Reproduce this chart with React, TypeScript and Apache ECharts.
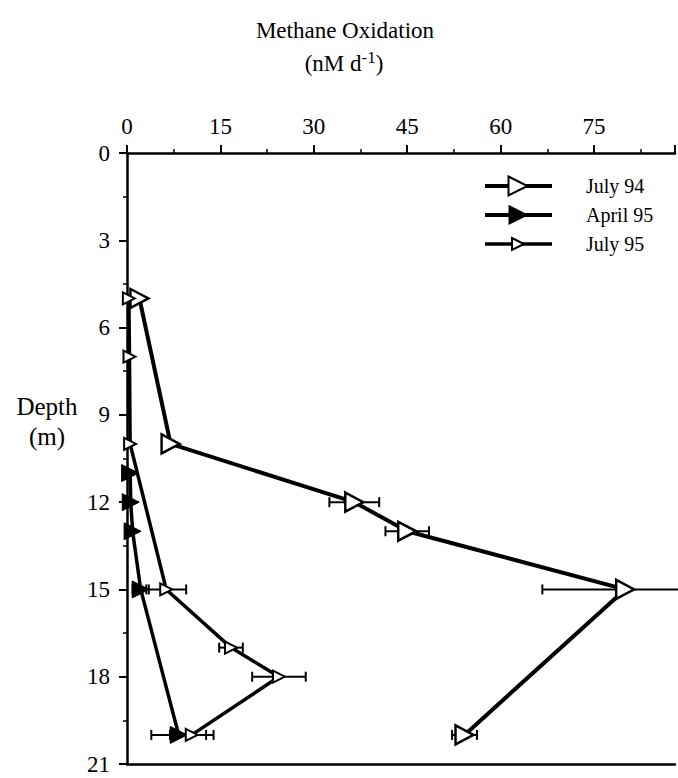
import React, { useEffect, useRef } from "react";
import * as echarts from "echarts";

// ---- Data (depth in m, methane oxidation in nM d-1) ----
const july94Depth = [5, 10, 12, 13, 15, 20];
const july94Value = [2.0, 7.0, 36.5, 45.0, 80.0, 54.2];
const july94Err = [0, 0, 4.0, 3.5, 13.3, 2.0];

const april95Depth = [11, 12, 13, 15, 20];
const april95Value = [0.5, 0.6, 0.9, 2.2, 8.3];
const april95Err = [0, 0, 0, 1.3, 4.4];

const july95Depth = [5, 7, 10, 15, 17, 18, 20];
const july95Value = [0.3, 0.4, 0.5, 6.3, 16.7, 24.4, 10.4];
const july95Err = [0, 0, 0, 3.2, 1.9, 4.3, 3.5];

const xTickLabels = [0, 15, 30, 45, 60, 75];
const seriesNames = ["July 94", "April 95", "July 95"];

const FONT = "'Liberation Serif', 'Times New Roman', Times, serif";

function errorBarSeries(values: number[], depths: number[], errs: number[]) {
  return {
    type: "custom",
    xAxisIndex: 0,
    yAxisIndex: 0,
    silent: true,
    z: 1,
    encode: { x: 0, y: 1 },
    data: values.map((v, i) => [v, depths[i], errs[i]]),
    renderItem: (params: any, api: any) => {
      const x = api.value(0);
      const d = api.value(1);
      const e = api.value(2);
      if (!e) return null;
      const l = api.coord([x - e, d]);
      const r = api.coord([x + e, d]);
      const cap = 5;
      const st = { stroke: "#000", lineWidth: 2 };
      return {
        type: "group",
        children: [
          { type: "line", shape: { x1: l[0], y1: l[1], x2: r[0], y2: r[1] }, style: st },
          { type: "line", shape: { x1: l[0], y1: l[1] - cap, x2: l[0], y2: l[1] + cap }, style: st },
          { type: "line", shape: { x1: r[0], y1: r[1] - cap, x2: r[0], y2: r[1] + cap }, style: st },
        ],
      };
    },
  };
}

function legendItem(y: number, label: string, size: number, filled: boolean, lw: number) {
  const cx = 518;
  const half = size / 2;
  return [
    { type: "line", shape: { x1: 485, y1: y, x2: 552, y2: y }, style: { stroke: "#000", lineWidth: lw } },
    {
      type: "polygon",
      shape: { points: [[cx - half, y - half], [cx + half, y], [cx - half, y + half]] },
      style: { fill: filled ? "#000" : "#fff", stroke: "#000", lineWidth: 2 },
    },
    {
      type: "text",
      x: 586,
      y: y,
      style: { text: label, fontFamily: FONT, fontSize: 20, fill: "#000", verticalAlign: "middle", align: "left" },
    },
  ];
}

export default function App() {
  const ref = useRef<HTMLDivElement>(null);
  useEffect(() => {
    if (!ref.current) return;
    const chart = echarts.init(ref.current, undefined, { renderer: "svg" });
    const axisLineStyle = { color: "#000", width: 2.5 };
    chart.setOption({
      animation: false,
      backgroundColor: "#fff",
      textStyle: { fontFamily: FONT },
      grid: { left: 127, top: 153, right: 0, height: 611, containLabel: false },
      xAxis: [
        {
          type: "value",
          position: "top",
          min: 0,
          max: 88,
          interval: 15,
          axisLine: { onZero: false, lineStyle: axisLineStyle },
          axisTick: { length: 8, lineStyle: { color: "#000", width: 2 } },
          minorTick: { show: true, splitNumber: 2, length: 4, lineStyle: { color: "#000", width: 1.5 } },
          splitLine: { show: false },
          axisLabel: {
            margin: 15,
            color: "#000",
            fontFamily: FONT,
            fontSize: 23,
            formatter: (v: number) => (xTickLabels.indexOf(v) >= 0 ? String(v) : ""),
          },
        },
        {
          type: "value",
          position: "bottom",
          min: 0,
          max: 88,
          axisLine: { onZero: false, lineStyle: axisLineStyle },
          axisTick: { show: false },
          axisLabel: { show: false },
          splitLine: { show: false },
        },
      ],
      yAxis: {
        type: "value",
        inverse: true,
        min: 0,
        max: 21,
        interval: 3,
        axisLine: { onZero: false, lineStyle: axisLineStyle },
        axisTick: { length: 8, lineStyle: { color: "#000", width: 2 } },
        minorTick: { show: true, splitNumber: 2, length: 4, lineStyle: { color: "#000", width: 1.5 } },
        splitLine: { show: false },
        axisLabel: { margin: 17, color: "#000", fontFamily: FONT, fontSize: 23 },
      },
      series: [
        errorBarSeries(july94Value, july94Depth, july94Err),
        errorBarSeries(april95Value, april95Depth, april95Err),
        errorBarSeries(july95Value, july95Depth, july95Err),
        {
          type: "line",
          name: seriesNames[0],
          xAxisIndex: 0,
          data: july94Value.map((v, i) => [v, july94Depth[i]]),
          symbol: "triangle",
          symbolRotate: -90,
          symbolSize: [19, 18],
          lineStyle: { color: "#000", width: 4 },
          itemStyle: { color: "#fff", borderColor: "#000", borderWidth: 2.5 },
          z: 3,
        },
        {
          type: "line",
          name: seriesNames[1],
          xAxisIndex: 0,
          data: april95Value.map((v, i) => [v, april95Depth[i]]),
          symbol: "triangle",
          symbolRotate: -90,
          symbolSize: [17, 17],
          lineStyle: { color: "#000", width: 3.5 },
          itemStyle: { color: "#000", borderColor: "#000", borderWidth: 1 },
          z: 3,
        },
        {
          type: "line",
          name: seriesNames[2],
          xAxisIndex: 0,
          data: july95Value.map((v, i) => [v, july95Depth[i]]),
          symbol: "triangle",
          symbolRotate: -90,
          symbolSize: [12, 12],
          lineStyle: { color: "#000", width: 3.5 },
          itemStyle: { color: "#fff", borderColor: "#000", borderWidth: 2 },
          z: 3,
        },
      ],
      graphic: [
        {
          type: "text",
          x: 345,
          y: 30,
          style: { text: "Methane Oxidation", fontFamily: FONT, fontSize: 23, fill: "#000", align: "center", verticalAlign: "middle" },
        },
        {
          type: "text",
          x: 344,
          y: 62,
          style: {
            text: "{a|(nM d}{s|-1}{a|)}",
            fill: "#000",
            align: "center",
            verticalAlign: "middle",
            rich: {
              a: { fontFamily: FONT, fontSize: 23, fill: "#000", verticalAlign: "bottom", lineHeight: 26 },
              s: { fontFamily: FONT, fontSize: 17, fill: "#000", verticalAlign: "top", lineHeight: 26, padding: [0, 0, 8, 0] },
            },
          },
        },
        {
          type: "text",
          x: 47,
          y: 406,
          style: { text: "Depth", fontFamily: FONT, fontSize: 25, fill: "#000", align: "center", verticalAlign: "middle" },
        },
        {
          type: "text",
          x: 47,
          y: 436,
          style: { text: "(m)", fontFamily: FONT, fontSize: 25, fill: "#000", align: "center", verticalAlign: "middle" },
        },
        ...legendItem(186, seriesNames[0], 19, false, 4),
        ...legendItem(215, seriesNames[1], 17, true, 4),
        ...legendItem(244, seriesNames[2], 12, false, 3.5),
      ],
    });
    return () => chart.dispose();
  }, []);
  return <div ref={ref} style={{ position: "fixed", left: 0, top: 0, width: 678, height: 778 }} />;
}
